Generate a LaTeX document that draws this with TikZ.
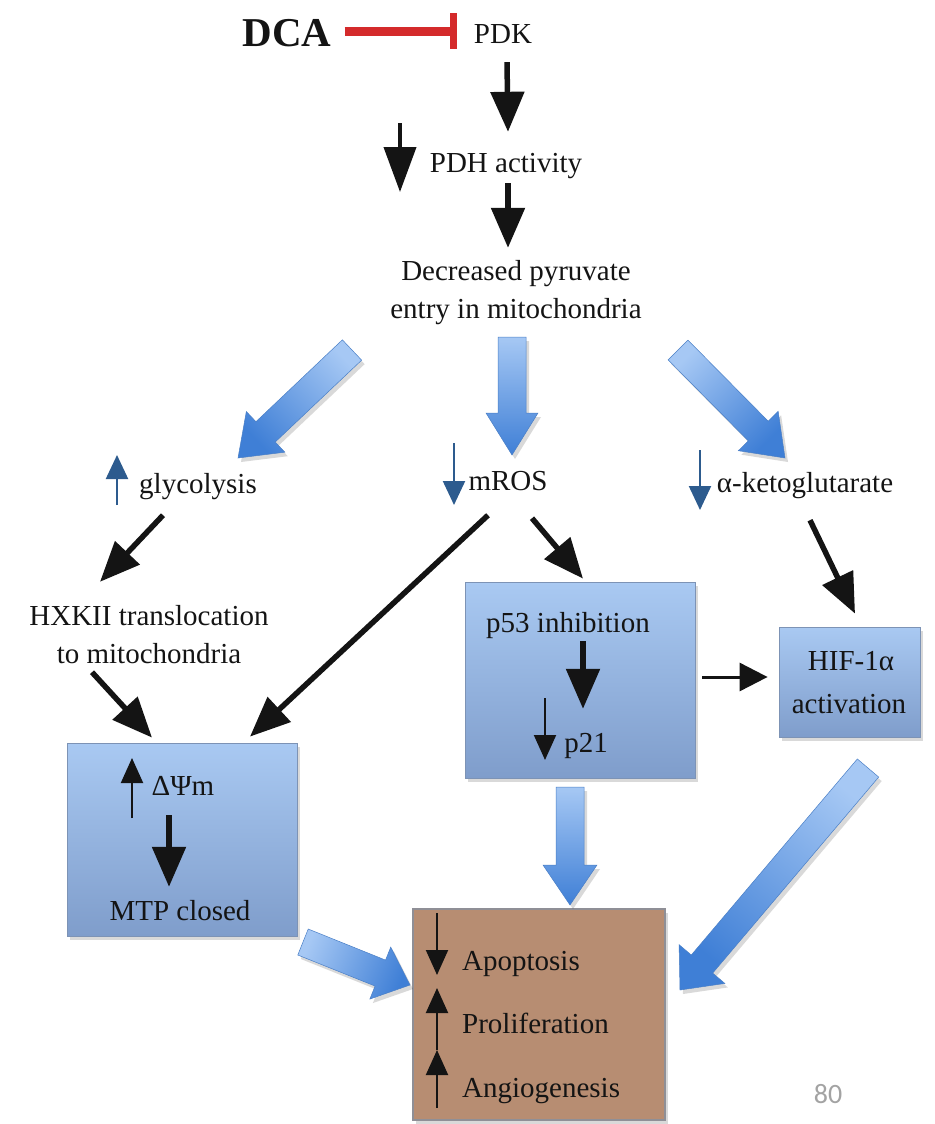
\documentclass[tikz,border=0pt]{standalone}
\usepackage{fontspec}
\setmainfont{Liberation Serif}
\newfontfamily\numfont{Carlito}
\usetikzlibrary{arrows.meta,calc,shadows}

\definecolor{inkblack}{HTML}{141414}
\definecolor{inhibred}{HTML}{D42A2B}
\definecolor{boxtop}{HTML}{A9C9F2}
\definecolor{boxbot}{HTML}{7F9DCB}
\definecolor{boxline}{HTML}{7D93B5}
\definecolor{brownfill}{HTML}{B78D72}
\definecolor{brownline}{HTML}{8F8F96}
\definecolor{fattop}{HTML}{A6C8F4}
\definecolor{fatbot}{HTML}{3F7FD6}
\definecolor{fatedge}{HTML}{4A7FC6}
\definecolor{markblue}{HTML}{2D5B8E}
\definecolor{pagegray}{HTML}{A3A3A3}

\newcommand\lblfont{\fontsize{29pt}{34pt}\selectfont}

% broad block arrow: tail, tip, half shaft, half head, head length, shading angle
\newcommand\blockarrow[6]{%
  \coordinate (bah) at ($(#2)!#5!(#1)$);
  \begin{scope}[transform canvas={xshift=3pt,yshift=-4pt}]
    \fill[black, opacity=.15]
      ($(#1)!#3!90:(#2)$) -- ($(bah)!#3!90:(#2)$) -- ($(bah)!#4!90:(#2)$) -- (#2)
      -- ($(bah)!#4!-90:(#2)$) -- ($(bah)!#3!-90:(#2)$) -- ($(#1)!#3!-90:(#2)$) -- cycle;
  \end{scope}
  \path[blockfill, shading angle=#6]
      ($(#1)!#3!90:(#2)$) -- ($(bah)!#3!90:(#2)$) -- ($(bah)!#4!90:(#2)$) -- (#2)
      -- ($(bah)!#4!-90:(#2)$) -- ($(bah)!#3!-90:(#2)$) -- ($(#1)!#3!-90:(#2)$) -- cycle;
}

\begin{document}
\begin{tikzpicture}[x=1pt,y=-1pt,
  lbl/.style={inner sep=0pt, anchor=base, text height=20pt, text depth=7pt, font=\lblfont, text=inkblack},
  lblw/.style={lbl, anchor=base west},
  bluebox/.style={draw=boxline, line width=0.8pt, top color=boxtop, bottom color=boxbot, inner sep=0pt,
    drop shadow={shadow xshift=3pt, shadow yshift=-4pt, opacity=.3}},
  brownbox/.style={fill=brownfill, draw=brownline, line width=2pt, inner sep=0pt,
    drop shadow={shadow xshift=3pt, shadow yshift=-4pt, opacity=.3}},
  conn/.style={draw=inkblack, line width=5.5pt, -{Triangle[length=40pt,width=33pt]}},
  thinconn/.style={draw=inkblack, line width=3pt, -{Triangle[length=28pt,width=28pt]}},
  inhib/.style={draw=inhibred, line width=9pt, -{Bar[width=36pt,line width=7pt]}},
  bigmark/.style={draw=inkblack, line width=4pt, -{Triangle[length=45pt,width=32pt]}},
  blackmark/.style={draw=inkblack, line width=2pt, -{Triangle[length=25pt,width=22pt]}},
  bluemark/.style={draw=markblue, line width=2.2pt, -{Triangle[length=24pt,width=22pt]}},
  blockfill/.style={top color=fattop, bottom color=fatbot, draw=fatedge, line width=0.5pt},
]
\useasboundingbox (0,0) rectangle (934,1124);

% ---- top chain ----
\node[lbl, font=\fontsize{41pt}{46pt}\selectfont\bfseries, text height=29pt, text depth=0pt] (dca) at (287,47) {DCA};
\node[lbl] (pdk) at (503,44) {PDK};
\node[lbl] (pdh) at (506,172) {PDH activity};
\node[lbl] (pyr1) at (516,280) {Decreased pyruvate};
\node[lbl] (pyr2) at (516,318) {entry in mitochondria};

\draw[inhib] ([xshift=13pt,yshift=1pt]dca.east) -- ([xshift=-17pt,yshift=6pt]pdk.west);
\draw[conn] ($(pdk.south)+(4,11)$) -- ($(pdh.north)+(2,-20)$);
\draw[conn] ($(pdh.south)+(2,4)$) -- ($(pyr1.north)+(-8,-12)$);
\draw[bigmark] (400,123) -- (400,192);

% ---- second row ----
\node[lbl] (glyc) at (198,493) {glycolysis};
\node[lbl] (mros) at (508,490) {mROS};
\node[lbl] (akg) at (805,492) {α-ketoglutarate};
\draw[bluemark] (117,505) -- (117,455);
\draw[bluemark] (454,443) -- (454,505);
\draw[bluemark] (700,450) -- (700,510);

\coordinate (fa1s) at (352,350); \coordinate (fa1e) at (238,458);
\coordinate (fa2s) at (512,337); \coordinate (fa2e) at (512,455);
\coordinate (fa3s) at (678,350); \coordinate (fa3e) at (785,458);
\blockarrow{fa1s}{fa1e}{14pt}{28pt}{38pt}{-46.5}
\blockarrow{fa2s}{fa2e}{14pt}{26pt}{42pt}{0}
\blockarrow{fa3s}{fa3e}{14pt}{28pt}{38pt}{44.7}

\node[lbl] (hxk1) at (149,625) {HXKII translocation};
\node[lbl] (hxk2) at (149,663) {to mitochondria};

% ---- boxes ----
\node[bluebox, minimum width=230pt, minimum height=193pt] (boxL) at (182,839.5) {};
\node[bluebox, minimum width=230pt, minimum height=196pt] (boxP) at (580,680) {};
\node[bluebox, minimum width=141pt, minimum height=110pt] (boxH) at (849.5,682) {};
\node[brownbox, minimum width=252pt, minimum height=211pt] (boxB) at (539,1014.5) {};

\node[lbl] (p53) at (568,632) {p53 inhibition};
\node[lbl] (p21) at (586,752) {p21};
\node[lbl] (hif1) at (851,670) {HIF-1α};
\node[lbl] (hif2) at (849,713) {activation};
\node[lbl] (dpsi) at (183,795) {ΔΨm};
\node[lbl] (mtp) at (180,920) {MTP closed};
\node[lblw] (apo) at (462,970) {Apoptosis};
\node[lblw] (pro) at (462,1033) {Proliferation};
\node[lblw] (ang) at (462,1097) {Angiogenesis};
\node[font=\numfont\fontsize{28pt}{32pt}\selectfont, text=pagegray, inner sep=0pt] (pg) at (828,1094) {80};

% ---- black connectors ----
\draw[conn] ($(glyc.south)+(-35,15)$) -- ($(hxk1.north)+(-49,-23)$);
\draw[conn] ($(hxk2.south)+(-57,2)$) -- ($(boxL.north)+(-30,-5)$);
\draw[conn] ($(mros.south)+(-20,18)$) -- ($(boxL.north)+(68,-6)$);
\draw[conn] ($(mros.south)+(24,21)$) -- ($(boxP.north)+(3,-3)$);
\draw[conn] ($(akg.south)+(5,21)$) -- ($(boxH.north)+(5.5,-13)$);
\draw[thinconn] ($(boxP.east)+(7,-3)$) -- ($(boxH.west)+(-11,-5)$);
\draw[conn] ($(p53.south)+(15,2)$) -- ($(p21.north)+(-3,-23)$);
\draw[conn] ($(dpsi.south)+(-14,13)$) -- ($(mtp.north)+(-11,-13)$);

% ---- in-box markers ----
\draw[blackmark] (132,818) -- (132,758);
\draw[blackmark] (545,698) -- (545,760);
\draw[blackmark] (437,913) -- (437,975);
\draw[blackmark] (437,1050) -- (437,988);
\draw[blackmark] (437,1108) -- (437,1050);

% ---- lower block arrows ----
\coordinate (fa4s) at (303,942); \coordinate (fa4e) at (410,985);
\coordinate (fa5s) at (570,787); \coordinate (fa5e) at (570,905);
\coordinate (fa6s) at (868,768); \coordinate (fa6e) at (680,990);
\blockarrow{fa4s}{fa4e}{14pt}{28pt}{32pt}{68.1}
\blockarrow{fa5s}{fa5e}{14pt}{27pt}{40pt}{0}
\blockarrow{fa6s}{fa6e}{14pt}{30pt}{34pt}{-40.3}

\end{tikzpicture}
\end{document}
